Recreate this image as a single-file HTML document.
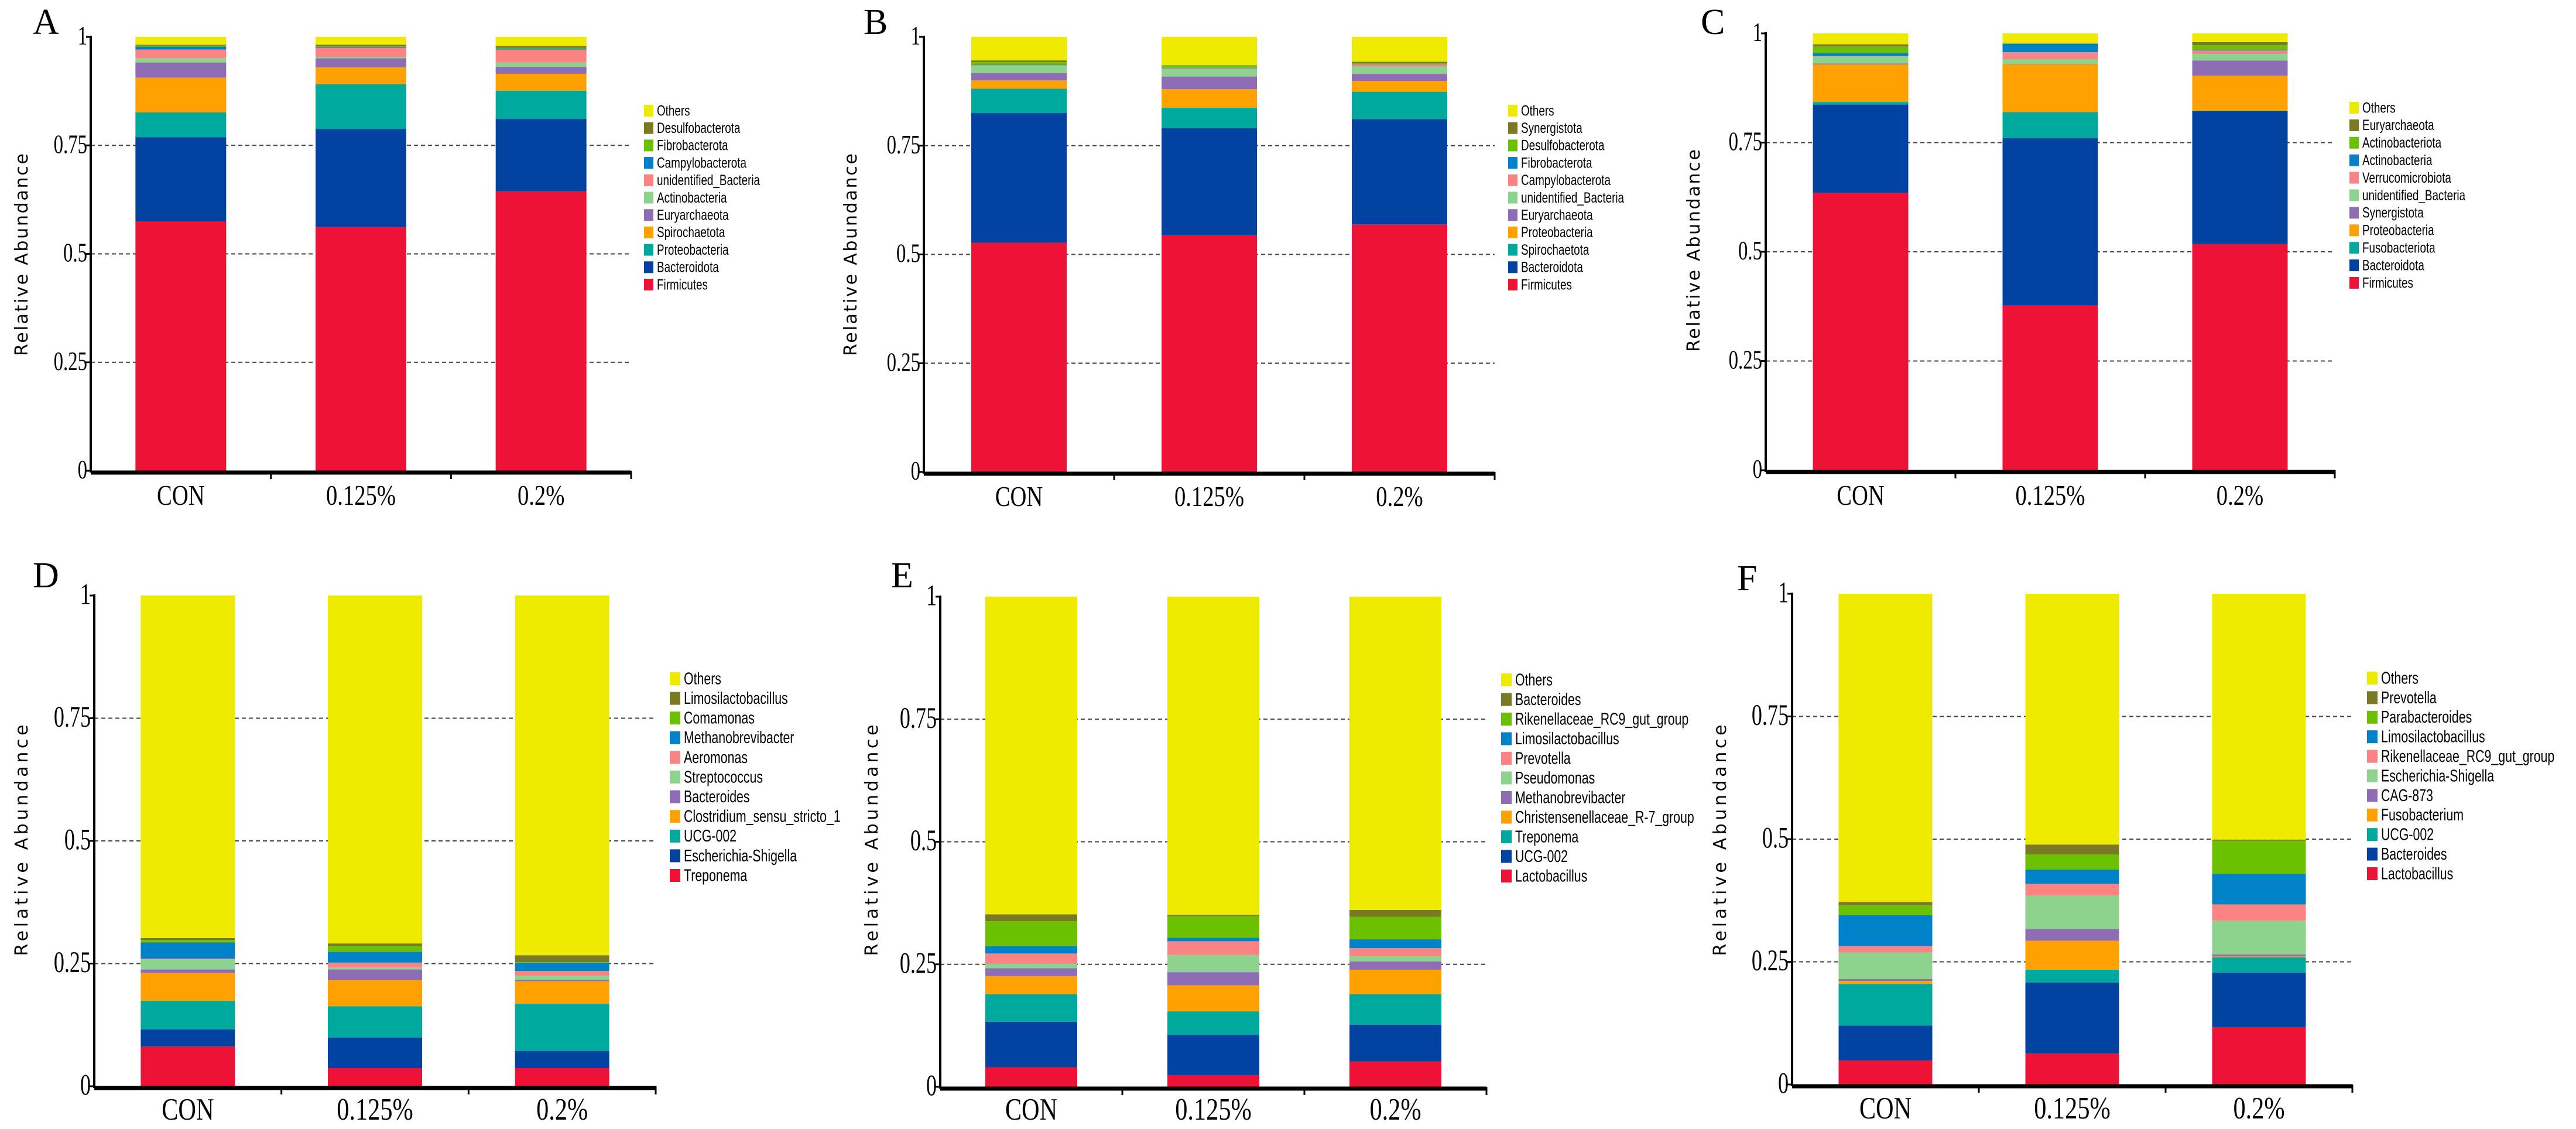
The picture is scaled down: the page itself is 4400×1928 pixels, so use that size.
<!DOCTYPE html>
<html><head><meta charset="utf-8"><style>
html,body{margin:0;padding:0;background:#fff;}
svg{display:block;}
</style></head><body>
<svg id="fig" width="4400" height="1928" viewBox="0 0 4400 1928" xmlns="http://www.w3.org/2000/svg"></svg>
<script>
// ---------- shared data ----------
const categories = ["CON", "0.125%", "0.2%"];
const yTicks = [0, 0.25, 0.5, 0.75, 1];
const yTickLabels = ["0", "0.25", "0.5", "0.75", "1"];

// Panel A (phylum) - bottom to top
const aTaxa = ["Firmicutes","Bacteroidota","Proteobacteria","Spirochaetota","Euryarchaeota","Actinobacteria","unidentified_Bacteria","Campylobacterota","Fibrobacterota","Desulfobacterota","Others"];
const aCON  = [0.575,0.194,0.057,0.080,0.035,0.010,0.020,0.007,0.002,0.002,0.018];
const a0125 = [0.562,0.226,0.103,0.039,0.021,0.003,0.021,0.002,0.001,0.004,0.018];
const a02   = [0.644,0.167,0.065,0.039,0.016,0.010,0.030,0.002,0.002,0.004,0.021];

// Panel B
const bTaxa = ["Firmicutes","Bacteroidota","Spirochaetota","Proteobacteria","Euryarchaeota","unidentified_Bacteria","Campylobacterota","Fibrobacterota","Desulfobacterota","Synergistota","Others"];
const bCON  = [0.527,0.298,0.056,0.019,0.017,0.017,0.001,0.001,0.006,0.004,0.054];
const b0125 = [0.544,0.246,0.047,0.043,0.029,0.018,0.001,0.001,0.005,0.001,0.065];
const b02   = [0.569,0.242,0.063,0.025,0.016,0.017,0.005,0.001,0.002,0.003,0.057];

// Panel C
const cTaxa = ["Firmicutes","Bacteroidota","Fusobacteriota","Proteobacteria","Synergistota","unidentified_Bacteria","Verrucomicrobiota","Actinobacteria","Actinobacteriota","Euryarchaeota","Others"];
const cCON  = [0.635,0.202,0.006,0.086,0.002,0.016,0.001,0.007,0.015,0.005,0.025];
const c0125 = [0.377,0.383,0.060,0.109,0.001,0.011,0.016,0.019,0.001,0.001,0.022];
const c02   = [0.518,0.304,0.001,0.080,0.035,0.015,0.008,0.002,0.010,0.007,0.020];

// Panel D (genus)
const dTaxa = ["Treponema","Escherichia-Shigella","UCG-002","Clostridium_sensu_stricto_1","Bacteroides","Streptococcus","Aeromonas","Methanobrevibacter","Comamonas","Limosilactobacillus","Others"];
const dCON  = [0.081,0.035,0.058,0.057,0.007,0.021,0.001,0.033,0.005,0.004,0.698];
const d0125 = [0.037,0.062,0.064,0.053,0.022,0.004,0.010,0.022,0.012,0.005,0.709];
const d02   = [0.037,0.035,0.096,0.046,0.003,0.008,0.010,0.017,0.001,0.014,0.733];

// Panel E
const eTaxa = ["Lactobacillus","UCG-002","Treponema","Christensenellaceae_R-7_group","Methanobrevibacter","Pseudomonas","Prevotella","Limosilactobacillus","Rikenellaceae_RC9_gut_group","Bacteroides","Others"];
const eCON  = [0.040,0.093,0.056,0.037,0.016,0.009,0.021,0.015,0.051,0.014,0.648];
const e0125 = [0.024,0.082,0.048,0.053,0.027,0.035,0.028,0.007,0.044,0.003,0.649];
const e02   = [0.052,0.075,0.062,0.050,0.017,0.011,0.016,0.018,0.046,0.014,0.639];

// Panel F
const fTaxa = ["Lactobacillus","Bacteroides","UCG-002","Fusobacterium","CAG-873","Escherichia-Shigella","Rikenellaceae_RC9_gut_group","Limosilactobacillus","Parabacteroides","Prevotella","Others"];
const fCON  = [0.049,0.071,0.085,0.006,0.004,0.054,0.013,0.063,0.020,0.007,0.628];
const f0125 = [0.063,0.145,0.026,0.059,0.024,0.068,0.024,0.029,0.031,0.020,0.511];
const f02   = [0.117,0.111,0.031,0.002,0.004,0.069,0.033,0.062,0.068,0.002,0.501];

// ---------- styling ----------
const palette = ["#EE1237","#0242A0","#00A99D","#FFA100","#8E6DB4","#8DD38E","#FB8383","#0082C8","#6BC000","#7A7A24","#EEEA00"];
const NS = "http://www.w3.org/2000/svg";
const svg = document.getElementById("fig");

function mk(tag, attrs, parent) {
  const el = document.createElementNS(NS, tag);
  for (const k in attrs) el.setAttribute(k, attrs[k]);
  (parent || svg).appendChild(el);
  return el;
}

const panels = [
  {id:"a", letter:"A", taxa:aTaxa, series:[aCON,a0125,a02], x0:155, x1:1078, yTop:63, yBot:804, barW:155,
   lx:1100, ly:189, ls:29.7, lf:23, sqW:16, sqH:20, lxLetter:56, lyLetter:58, titleX:37, titleY:435, titleLen:346, tickF:40, catF:42, catY:862},
  {id:"b", letter:"B", taxa:bTaxa, series:[bCON,b0125,b02], x0:1578, x1:2553, yTop:63, yBot:806, barW:163,
   lx:2576, ly:189, ls:29.7, lf:23, sqW:16, sqH:20, lxLetter:1475, lyLetter:58, titleX:1453, titleY:435, titleLen:346, tickF:40, catF:42, catY:864},
  {id:"c", letter:"C", taxa:cTaxa, series:[cCON,c0125,c02], x0:3016, x1:3988, yTop:57, yBot:803, barW:163,
   lx:4013, ly:184, ls:29.9, lf:23, sqW:16, sqH:20, lxLetter:2905, lyLetter:58, titleX:2893, titleY:428, titleLen:346, tickF:40, catF:42, catY:862},
  {id:"d", letter:"D", taxa:dTaxa, series:[dCON,d0125,d02], x0:161, x1:1120, yTop:1017, yBot:1855, barW:161,
   lx:1144, ly:1159, ls:33.6, lf:26, sqW:18, sqH:22, lxLetter:56, lyLetter:1003, titleX:37, titleY:1435, titleLen:395, tickF:44, catF:46, catY:1912},
  {id:"e", letter:"E", taxa:eTaxa, series:[eCON,e0125,e02], x0:1606, x1:2539, yTop:1019, yBot:1856, barW:157,
   lx:2564, ly:1161, ls:33.5, lf:26, sqW:18, sqH:22, lxLetter:1522, lyLetter:1003, titleX:1489, titleY:1435, titleLen:395, tickF:44, catF:46, catY:1912},
  {id:"f", letter:"F", taxa:fTaxa, series:[fCON,f0125,f02], x0:3061, x1:4018, yTop:1014, yBot:1852, barW:160,
   lx:4043, ly:1158, ls:33.4, lf:26, sqW:18, sqH:22, lxLetter:2967, lyLetter:1008, titleX:2938, titleY:1435, titleLen:395, tickF:44, catF:46, catY:1910}
];

function drawPanel(p) {
  const g = mk("g", {});
  
  
  const yScale = v => p.yBot - v * (p.yBot - p.yTop);
  const band = (p.x1 - p.x0) / categories.length;
  const xCenter = i => p.x0 + band * (i + 0.5);

  // panel letter
  const L = mk("text", {x:p.lxLetter, y:p.lyLetter, "font-family":"Liberation Serif, serif", "font-size":62, fill:"#000"}, g);
  L.textContent = p.letter;
  
  

  // gridlines
  yTicks.forEach((t, i) => {
    if (t === 0 || t === 1) return;
    const gl = mk("line", {x1:p.x0, x2:p.x1, y1:yScale(t), y2:yScale(t), stroke:"#444", "stroke-width":2, "stroke-dasharray":"7,5"}, g);
    
    
  });

  // bars
  p.series.forEach((vals, ci) => {
    let acc = 0;
    vals.forEach((v, si) => {
      const top = yScale(acc + v), bot = yScale(acc);
      const r = mk("rect", {x:xCenter(ci) - p.barW / 2, y:top, width:p.barW, height:Math.max(0, bot - top), fill:palette[si]}, g);
      
      
      acc += v;
    });
  });

  // axes
  const ya = mk("line", {x1:p.x0, x2:p.x0, y1:p.yTop - 2, y2:p.yBot + 3, stroke:"#000", "stroke-width":4}, g);
  
  
  const xa = mk("line", {x1:p.x0, x2:p.x1, y1:p.yBot + 3, y2:p.yBot + 3, stroke:"#000", "stroke-width":7}, g);
  
  
  for (let i = 1; i <= categories.length; i++) {
    const tx = p.x0 + band * i;
    const tk = mk("line", {x1:tx, x2:tx, y1:p.yBot, y2:p.yBot + 14, stroke:"#000", "stroke-width":3}, g);
    
    
  }

  // y ticks
  yTicks.forEach((t, i) => {
    const y = yScale(t);
    const tk = mk("line", {x1:p.x0 - 8, x2:p.x0, y1:y, y2:y, stroke:"#000", "stroke-width":3}, g);
    
    
    const tl = mk("text", {"text-anchor":"end", "font-family":"Liberation Serif, serif", "font-size":p.tickF, fill:"#000",
      transform:"translate(" + (p.x0 - 6) + "," + (y + p.tickF * 0.33) + ") scale(0.82,1.15)"}, g);
    tl.textContent = yTickLabels[i];
    
    
  });

  // category labels
  categories.forEach((c, i) => {
    const t = mk("text", {"text-anchor":"middle", "font-family":"Liberation Serif, serif", "font-size":p.catF, fill:"#000",
      transform:"translate(" + xCenter(i) + "," + p.catY + ") scale(0.92,1.15)"}, g);
    t.textContent = c;
    
    
  });

  // y title
  const yt = mk("text", {"text-anchor":"middle", "font-family":"DejaVu Sans, sans-serif", "font-size":30, fill:"#000",
    textLength:p.titleLen, lengthAdjust:"spacing",
    transform:"translate(" + (p.titleX + 10) + "," + p.titleY + ") rotate(-90)"}, g);
  yt.textContent = "Relative Abundance";
  
  

  // legend (top item = Others)
  const n = p.taxa.length;
  for (let k = 0; k < n; k++) {
    const si = n - 1 - k;
    const cy = p.ly + k * p.ls;
    const lg = mk("g", {}, g);
    
    
    mk("rect", {x:p.lx, y:cy - p.sqH / 2, width:p.sqW, height:p.sqH, fill:palette[si]}, lg);
    const t = mk("text", {"font-family":"Liberation Sans, sans-serif", "font-size":p.lf, fill:"#000",
      transform:"translate(" + (p.lx + p.sqW + 6) + "," + (cy + p.lf * 0.36) + ") scale(0.82,1.1)"}, lg);
    t.textContent = p.taxa[si];
  }
}

panels.forEach(drawPanel);
</script>
</body></html>
